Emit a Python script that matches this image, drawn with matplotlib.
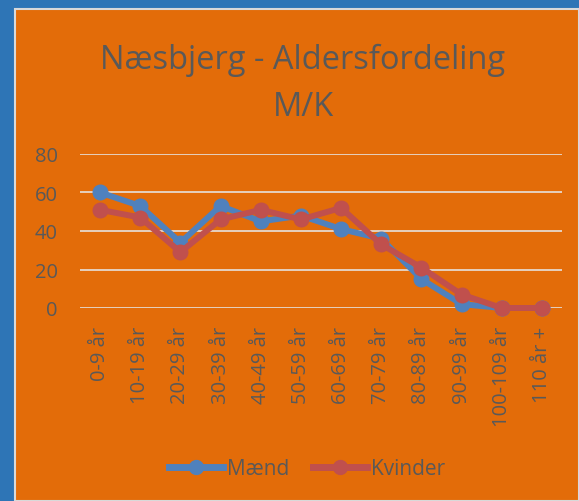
import matplotlib
matplotlib.use("Agg")
import matplotlib.pyplot as plt
from matplotlib.patches import Rectangle
from matplotlib.lines import Line2D

categories = ["0-9 år", "10-19 år", "20-29 år", "30-39 år", "40-49 år", "50-59 år",
              "60-69 år", "70-79 år", "80-89 år", "90-99 år", "100-109 år", "110 år +"]
maend = [60, 53, 34, 53, 45, 48, 41, 36, 15, 2, 0, 0]
kvinder = [51, 47, 29, 46, 51, 46, 52, 33, 21, 7, 0, 0]
yticks = [0, 20, 40, 60, 80]

W, H = 579, 502
plt.rcParams['font.family'] = ['Open Sans', 'DejaVu Sans']
TXT = '#595959'
ORANGE = '#E36C09'
BLUE_BG = '#2E75B6'
C_M = '#4F81BD'
C_K = '#C0504D'

fig = plt.figure(figsize=(W / 100, H / 100), dpi=100, facecolor=BLUE_BG)
fig.patches.append(Rectangle((15 / W, 0), 1 - 15 / W, 1 - 10 / H, transform=fig.transFigure,
                             facecolor=ORANGE, edgecolor='#D9D9D9', linewidth=1.5, zorder=-5))

ax = fig.add_axes([80 / W, (H - 309) / H, (562 - 80) / W, (309 - 155) / H])
ax.set_zorder(2)
ax.set_facecolor('none')
x = list(range(len(categories)))
ax.plot(x, maend, color=C_M, lw=4.3, marker='o', ms=10.5, clip_on=False, zorder=3, label='Mænd')
ax.plot(x, kvinder, color=C_K, lw=4.3, marker='o', ms=10.5, clip_on=False, zorder=4, label='Kvinder')
ax.set_xlim(-0.5, len(categories) - 0.5)
ax.set_ylim(0, 80)
ax.set_yticks(yticks)
ax.set_xticks(x)
ax.set_xticklabels(categories, rotation=90, va='top', ha='center')
ax.tick_params(axis='both', length=0, colors=TXT, labelsize=14.5)
ax.tick_params(axis='x', pad=13)
ax.tick_params(axis='y', pad=16)
ax.grid(axis='y', color='#E6D8CC', lw=1.3, zorder=1)
ax.set_axisbelow(True)
for s in ax.spines.values():
    s.set_visible(False)

fig.text(303 / W, 1 - 60 / H, "Næsbjerg - Aldersfordeling", ha='center', va='center',
         fontsize=23.5, color=TXT)
fig.text(303 / W, 1 - 108 / H, "M/K", ha='center', va='center', fontsize=23.5, color=TXT)

handles = [Line2D([], [], color=C_M, lw=5, marker='o', ms=10),
           Line2D([], [], color=C_K, lw=5, marker='o', ms=10)]
fig.legend(handles, ['Mænd', 'Kvinder'], loc='center', bbox_to_anchor=(307 / W, 1 - 470 / H),
           ncol=2, frameon=False, fontsize=15, labelcolor=TXT, handlelength=2.6,
           handletextpad=0.2, columnspacing=1.1)

fig.savefig('out.png', dpi=100, facecolor=BLUE_BG)
